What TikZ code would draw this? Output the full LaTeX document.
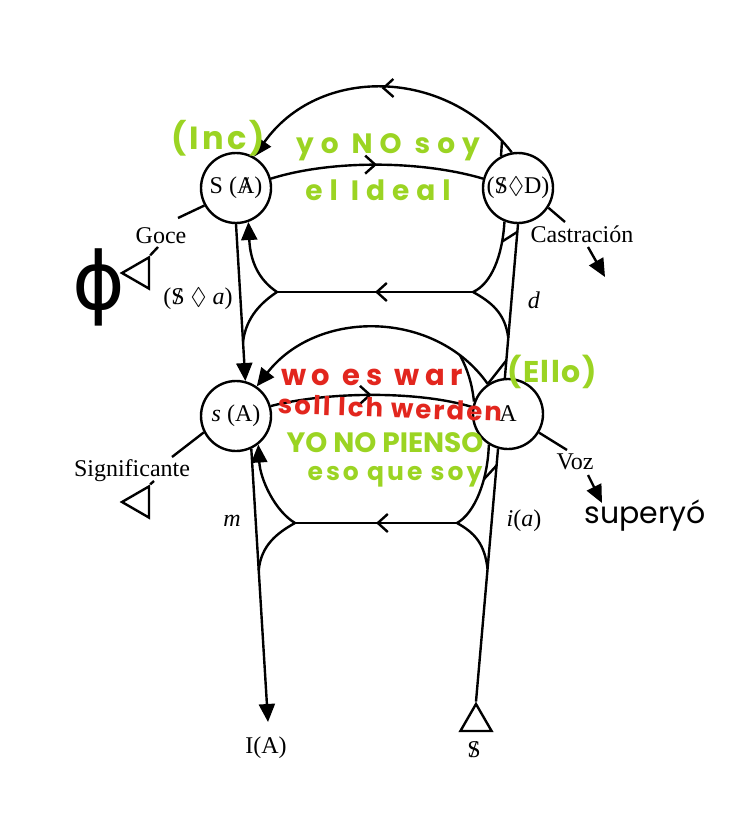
\documentclass[tikz,border=0pt]{standalone}
\usepackage{amssymb}
\usepackage{fontspec}
\setmainfont{Liberation Serif}
\newfontfamily\handfont{Poppins}
\newfontfamily\symbfont{DejaVu Sans}
\usetikzlibrary{
  arrows.meta,
  calc,
  decorations.markings,
  shapes.geometric
}
\definecolor{markergreen}{RGB}{155,212,35}
\definecolor{markerred}{RGB}{226,38,30}
\newcommand{\barred}[1]{\ooalign{#1\cr\hidewidth/\hidewidth}}
\tikzset{
  barb/.tip={Straight Barb[length=5pt,width=9pt,line width=1.2pt]},
  vertex/.style={draw,circle,line width=1.2pt,minimum size=35pt,inner sep=0pt,fill=white,
    font=\fontsize{12}{14}\selectfont},
  wire/.style={line width=1.2pt},
  arrowin/.style={-{Triangle[length=9pt,width=8pt]}},
  midarrow/.style={postaction={decorate,decoration={markings,
        mark=at position 0.5 with {\arrow{barb}}}}},
  spot/.style 2 args={postaction={decorate,decoration={markings,
        mark=at position #1 with {\coordinate (#2);}}}},
  tri/.style={draw,regular polygon,regular polygon sides=3,line width=1.2pt,
    minimum size=18pt,inner sep=0pt},
  txt/.style={font=\fontsize{12}{14}\selectfont,inner sep=1pt},
  hand/.style 2 args={inner sep=0pt,
    font=\handfont\bfseries\fontsize{#1}{#1}\selectfont\addfontfeature{LetterSpace=#2}}
}
\begin{document}
\begin{tikzpicture}[x=0.5pt,y=-0.5pt]
  \useasboundingbox (0,0) rectangle (753,818);

  \node[vertex] (SA) at (236,188) {S (\barred{A})};
  \node[vertex] (SD) at (518,188) {(\barred{S}$\lozenge$D)};
  \node[vertex] (sA) at (236,416) {\textit{s} (A)};
  \node[vertex] (A) at (508,414) {A};

  \node[tri,shape border rotate=90] (goceT) at (140,273) {};
  \node[tri,shape border rotate=90] (sigT) at (140,502) {};
  \node[tri] (barS) at (476,722) {};

  \node[txt] (goce) at (161,236) {Goce};
  \node[txt] (cast) at (582,234) {Castración};
  \node[txt] (lozA) at (198,299) {(\barred{S} $\lozenge$ \textit{a})};
  \node[txt] (dd) at (534,300) {\textit{d}};
  \node[txt] (signif) at (132,471) {Significante};
  \node[txt] (mm) at (232,521) {\textit{m}};
  \node[txt] (voz) at (575,462) {Voz};
  \node[txt] (ia) at (524,521) {\textit{i}(\textit{a})};
  \node[txt] (IA) at (266,748) {I(A)};
  \node[txt] (bS) at (474,750) {\barred{S}};

  \coordinate (IAtip) at (268,722);
  \coordinate (uL) at (277,292);
  \coordinate (uR) at (473,292);
  \coordinate (lL) at (295,523);
  \coordinate (lR) at (457,523);
  \coordinate (goceTop) at (178,218);
  \coordinate (goceEnd) at (158,247);
  \coordinate (sigTop) at (172,457);
  \coordinate (sigEnd) at (154,481);
  \coordinate (castA) at (565,222);
  \coordinate (castB) at (588,247);
  \coordinate (castC) at (605,277);
  \coordinate (vozA) at (567,450);
  \coordinate (vozB) at (588,475);
  \coordinate (vozC) at (602,503);

  \coordinate (L1m) at ($(SA.-90)!0.75!(sA.75)$);
  \coordinate (R1b) at ($(SD.-90)!0.05!(A.95)$);
  \coordinate (R1m) at ($(SD.-90)!0.74!(A.95)$);
  \coordinate (R1t) at ($(SD.-90)!0.886!(A.95)$);
  \coordinate (L2m) at ($(sA.-65)!0.446!(IAtip)$);
  \coordinate (R2t) at ($(A.-106)!0.066!(barS.corner 1)$);
  \coordinate (R2m) at ($(A.-106)!0.475!(barS.corner 1)$);

  \draw[wire,midarrow,arrowin,spot={0.05}{arcR}]
  (SD.100) .. controls (445,66) and (318,66) .. (SA.60);
  \draw[wire] (arcR) -- (SD.118);
  \draw[wire,midarrow] (SA.15) .. controls (330,160) and (420,160) .. (SD.165);

  \draw[wire,arrowin] (SA.-90) -- (sA.75);
  \draw[wire] (SD.-90) -- (A.95);
  \draw[wire,arrowin] (sA.-65) -- (IAtip);
  \draw[wire] (barS.corner 1) -- (A.-106);

  \draw[wire,midarrow] (uR) -- (uL);
  \draw[wire,arrowin] (uL) .. controls +(-18,-12) and +(2,40) .. (SA.-70);
  \draw[wire] (uL) .. controls +(-15,10) and +(3,-25) .. (L1m);
  \draw[wire,spot={0.75}{flareD}] (uR) .. controls +(18,-8) and +(-2,35) .. (SD.-112);
  \draw[wire] (uR) .. controls +(18,10) and +(-3,-25) .. (R1m);
  \draw[wire] (flareD) -- (R1b);

  \draw[wire,arrowin,spot={0.15}{arcB}]
  (A.124) .. controls (435,309) and (317,309) .. (sA.55);
  \draw[wire] (arcB) .. controls +(8,15) and +(-2,-18) .. (A.160);
  \draw[wire] (A.124) -- (R1t);
  \draw[wire,midarrow] (sA.16) .. controls (330,391) and (420,391) .. (A.169);

  \draw[wire,midarrow] (lR) -- (lL);
  \draw[wire,arrowin] (lL) .. controls +(-20,-12) and +(2,35) .. (sA.-52);
  \draw[wire] (lL) .. controls +(-18,10) and +(2,-25) .. (L2m);
  \draw[wire,spot={0.6}{flareA}] (lR) .. controls +(18,-10) and +(-1,35) .. (A.-122);
  \draw[wire] (lR) .. controls +(18,10) and +(-3,-25) .. (R2m);
  \draw[wire] (flareA) -- (R2t);

  \draw[wire] (SA.209) -- (goceTop);
  \draw[wire] (goceT.corner 3) -- (goceEnd);
  \draw[wire] (sA.207) -- (sigTop);
  \draw[wire] (sigT.corner 3) -- (sigEnd);
  \draw[wire] (SD.-33) -- (castA);
  \draw[wire,arrowin] (castB) -- (castC);
  \draw[wire] (A.-31) -- (vozA);
  \draw[wire,arrowin] (vozB) -- (vozC);

  \node[hand={16}{10},text=markergreen] (inc) at (218,138) {(Inc)};
  \node[hand={14}{25},text=markergreen] (yoNoSoy) at (388,147) {yo NO soy};
  \node[hand={14}{25},text=markergreen] (elIdeal) at (378,190) {el Ideal};
  \node[hand={15}{5},text=markergreen] (ello) at (552,372) {(Ello)};
  \node[hand={14.5}{20},text=markerred] (woEsWar) at (372,377) {wo es war};
  \node[hand={13}{8},text=markerred,rotate=-2] (sollIch) at (390,408) {soll Ich werden};
  \node[hand={14}{0},text=markergreen] (yoNoPienso) at (385,443) {YO NO PIENSO};
  \node[hand={12.5}{12},text=markergreen] (esoQueSoy) at (395,477) {eso que soy};
  \node[font=\handfont\fontsize{15}{15}\selectfont,inner sep=0pt] (superyo) at (645,516) {superyó};
  \node[font=\symbfont\fontsize{40}{40}\selectfont,inner sep=0pt] (phi) at (99,287) {ϕ};
\end{tikzpicture}
\end{document}
